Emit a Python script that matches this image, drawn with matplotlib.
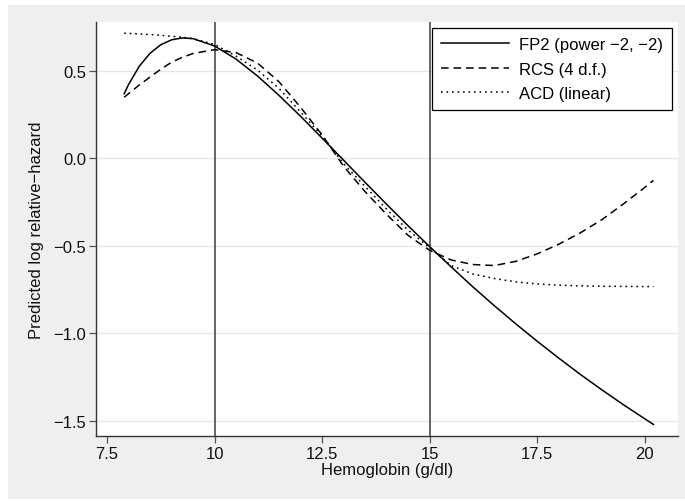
import matplotlib.pyplot as plt
from matplotlib.patches import Rectangle

plt.rcParams['font.family'] = ['Liberation Sans', 'DejaVu Sans']

# hemoglobin grid (g/dl)
hb = [7.9, 8.0, 8.25, 8.5, 8.75, 9.0, 9.25, 9.5, 10.0, 10.5, 11.0, 11.5, 12.0,
      12.5, 13.0, 13.5, 14.0, 14.5, 15.0, 15.5, 16.0, 16.5, 17.0, 17.5, 18.0,
      18.5, 19.0, 19.5, 20.0, 20.2]

fp2 = [0.370, 0.422, 0.527, 0.601, 0.650, 0.678, 0.689, 0.685, 0.643, 0.568,
       0.471, 0.360, 0.241, 0.116, -0.010, -0.137, -0.262, -0.385, -0.504,
       -0.620, -0.733, -0.841, -0.945, -1.045, -1.141, -1.234, -1.322, -1.407,
       -1.488, -1.520]

rcs = [0.350, 0.370, 0.420, 0.465, 0.510, 0.550, 0.578, 0.600, 0.622, 0.605,
       0.545, 0.438, 0.292, 0.135, -0.045, -0.190, -0.320, -0.440, -0.525,
       -0.580, -0.606, -0.612, -0.588, -0.545, -0.490, -0.425, -0.350, -0.260,
       -0.165, -0.125]

acd = [0.716, 0.715, 0.712, 0.708, 0.704, 0.698, 0.693, 0.685, 0.652, 0.585,
       0.505, 0.400, 0.265, 0.128, -0.030, -0.160, -0.290, -0.410, -0.510,
       -0.612, -0.660, -0.686, -0.705, -0.717, -0.724, -0.728, -0.730, -0.731,
       -0.732, -0.732]

xticks = [7.5, 10, 12.5, 15, 17.5, 20]
xticklabels = ['7.5', '10', '12.5', '15', '17.5', '20']
yticks = [0.5, 0.0, -0.5, -1.0, -1.5]
yticklabels = ['0.5', '0.0', '\u22120.5', '\u22121.0', '\u22121.5']
vlines = [10, 15]

fig = plt.figure(figsize=(6.85, 5.02), dpi=100, facecolor='white')
fig.patches.append(Rectangle((8 / 685, 2 / 502), 677 / 685, 494 / 502,
                             transform=fig.transFigure, facecolor='#efefef',
                             edgecolor='none', zorder=-10))
ax = fig.add_axes([96 / 685, 1 - 437 / 502, 582 / 685, 414 / 502])
ax.set_zorder(5)
ax.set_facecolor('white')

for v in yticks:
    ax.axhline(v, color='#e6e6e6', lw=1.0, zorder=1)
for v in vlines:
    ax.axvline(v, color='#3c3c3c', lw=1.1, zorder=2)

ax.plot(hb, fp2, color='black', lw=1.1, ls='-', label='FP2 (power \u22122, \u22122)', zorder=3)
ax.plot(hb, rcs, color='black', lw=1.1, ls=(0, (5, 3.2)), label='RCS (4 d.f.)', zorder=3)
ax.plot(hb, acd, color='black', lw=1.1, ls=(0, (1.1, 2.5)), label='ACD (linear)', zorder=3)

ax.set_xlim(7.245, 20.77)
ax.set_ylim(-1.586, 0.78)
ax.set_xticks(xticks)
ax.set_xticklabels(xticklabels)
ax.set_yticks(yticks)
ax.set_yticklabels(yticklabels)
ax.tick_params(axis='both', direction='out', length=5, width=0.9, color='#555555',
               labelsize=12, labelcolor='#111111', pad=2)

for s in ['top', 'right']:
    ax.spines[s].set_visible(False)
for s in ['left', 'bottom']:
    ax.spines[s].set_color('#333333')
    ax.spines[s].set_linewidth(1.0)

ax.set_xlabel('Hemoglobin (g/dl)', fontsize=12, color='#111111', labelpad=1)
ax.set_ylabel('Predicted log relative\u2212hazard', fontsize=12, color='#111111', labelpad=7)

leg = ax.legend(loc='upper right', bbox_to_anchor=(0.99, 0.986), borderaxespad=0,
                fontsize=12, handlelength=4.1, handletextpad=0.6, labelspacing=0.58,
                fancybox=False, framealpha=1, edgecolor='black', borderpad=0.55)
leg.get_frame().set_linewidth(0.9)

fig.savefig('out.png', dpi=100, facecolor=fig.get_facecolor())
